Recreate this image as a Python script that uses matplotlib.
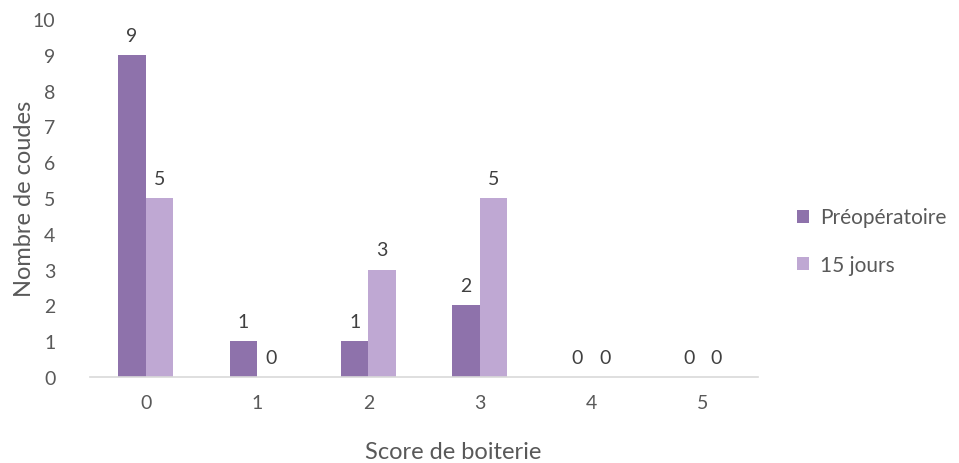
import matplotlib
matplotlib.use("Agg")
import matplotlib.pyplot as plt
import numpy as np

categories = ["0", "1", "2", "3", "4", "5"]
preop = [9, 1, 1, 2, 0, 0]
j15 = [5, 0, 3, 5, 0, 0]
series_names = ["Préopératoire", "15 jours"]
colors = ["#8E72AB", "#BFA8D3"]

plt.rcParams['font.family'] = ['Lato', 'DejaVu Sans']
fig = plt.figure(figsize=(9.59, 4.64), dpi=100)
ax = fig.add_axes([90/959, (464-378)/464, (758-90)/959, (378-20)/464])

x = np.arange(len(categories))
w = 0.245
b1 = ax.bar(x - w/2, preop, w, color=colors[0], label=series_names[0])
b2 = ax.bar(x + w/2, j15, w, color=colors[1], label=series_names[1])
txtc = "#404040"
for bars, vals in ((b1, preop), (b2, j15)):
    for r, v in zip(bars, vals):
        ax.annotate(str(v), (r.get_x() + r.get_width()/2, v), xytext=(0, 8),
                    textcoords="offset points", ha="center", va="bottom",
                    fontsize=14, color=txtc)

ax.set_xlim(-0.5, len(categories) - 0.5)
ax.set_ylim(0, 10)
ax.set_yticks(range(0, 11))
ax.set_xticks(x)
ax.set_xticklabels(categories)
for s in ["top", "right", "left"]:
    ax.spines[s].set_visible(False)
ax.spines["bottom"].set_color("#D9D9D9")
ax.spines["bottom"].set_linewidth(1.2)
ax.tick_params(axis="both", length=0, labelsize=14, colors="#595959")
ax.tick_params(axis="x", pad=12)
ax.tick_params(axis="y", pad=25)
ax.set_xlabel("Score de boiterie", fontsize=17, color="#595959")
ax.set_ylabel("Nombre de coudes", fontsize=17, color="#595959")
ax.xaxis.set_label_coords((453-90)/668, -(453-378)/358, transform=ax.transAxes)
ax.xaxis.label.set_va("center")
ax.yaxis.set_label_coords(-(90-25)/668, 0.5, transform=ax.transAxes)
ax.yaxis.label.set_va("center")

leg = fig.legend(handles=[b1, b2], labels=series_names, loc="center left",
                 bbox_to_anchor=(778/959, 1 - 242/464), frameon=False,
                 fontsize=15, handlelength=0.6, handleheight=0.6,
                 labelspacing=1.3, handletextpad=0.5)
for t in leg.get_texts():
    t.set_color("#595959")

fig.savefig("out.png", dpi=100)
